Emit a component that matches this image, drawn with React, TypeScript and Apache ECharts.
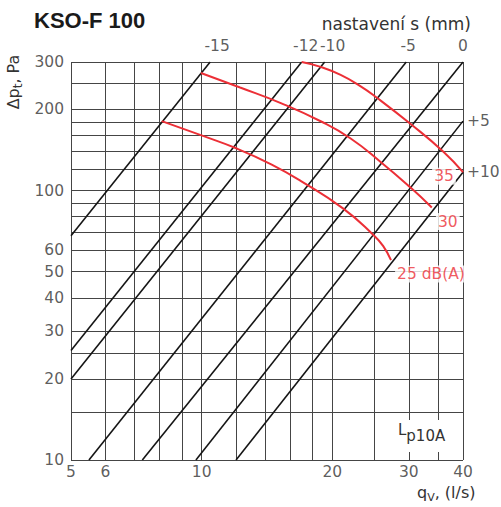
import React, { useEffect, useRef } from "react";
import * as echarts from "echarts";

// ---- data ----
const xGridValues = [5, 6, 7, 8, 9, 10, 12, 14, 16, 18, 20, 25, 30, 35, 40];
const yGridValues = [10, 15, 20, 25, 30, 40, 50, 60, 70, 80, 90, 100, 120, 140, 160, 180, 200, 250, 300];
const xTickLabels = [5, 6, 10, 20, 30, 40];
const yTickLabels = [10, 20, 30, 40, 50, 60, 100, 200, 300];

// setting lines (nastavení s, mm): start and end points [q, dp]
const settingNames = ["-15", "-12", "-10", "-5", "0", "+5", "+10"];
const settingStart = [[5, 68], [5, 25.5], [5, 20], [5.5, 10], [7.3, 10], [9.7, 10], [12, 10]];
const settingEnd = [[10.46, 300], [17.0, 300], [19.2, 300], [29.6, 300], [40, 300], [40, 181], [40, 117]];

// labels at the top of the chart (line tops) and on the right (line ends)
const topLabelNames = ["-15", "-12", "-10", "-5", "0"];
const topLabelQ = [10.46, 17.0, 19.2, 29.6, 40];
const rightLabelNames = ["+5", "+10"];
const rightLabelDp = [181, 117];

// noise curves Lp10A
const noiseLabels = ["35", "30", "25 dB(A)"];
const noise35 = [[17.0, 300], [18.8, 287.7], [20.9, 268.6], [23.2, 244.2], [25.3, 221.4], [30.2, 177.3], [36.1, 139.1], [40, 117]];
const noise30 = [[9.96, 273.2], [12.26, 241.3], [15.17, 211.6], [18.8, 180.8], [22.0, 156.4], [25.8, 128.0], [30.2, 103.0], [33.9, 86.5]];
const noise25 = [[8.09, 181], [9.92, 160.9], [12.05, 143.2], [14.5, 124.9], [16.9, 108.7], [21.2, 85.7], [24.9, 68.3], [26.2, 62.2], [27.3, 55.2]];

// ---- styles ----
const FONT = '"DejaVu Sans", "Noto Sans", sans-serif';
const TEXT = "#333";
const RED = "#ec2f36";
const GRIDC = "#454545";
const topLabelDx = [7, 4, 8, 2, 0];
const noiseLabelOffsets = [[-19, 4], [16, 14], [40, 14]];

export default function App() {
  const ref = useRef<HTMLDivElement>(null);

  useEffect(() => {
    const chart = echarts.init(ref.current!, null, { renderer: "svg" });
    const noiseSeries = [noise35, noise30, noise25];

    const series: any[] = [];

    // grid lines
    series.push({
      type: "line",
      data: [[5, 10]],
      showSymbol: false,
      lineStyle: { opacity: 0 },
      silent: true,
      z: 1,
      markLine: {
        silent: true,
        symbol: ["none", "none"],
        label: { show: false },
        z: 1,
        animation: false,
        lineStyle: { color: GRIDC, width: 1, type: "solid" },
        emphasis: { disabled: true },
        data: [
          ...xGridValues.map((v) => ({ xAxis: v })),
          ...yGridValues.map((v) => ({ yAxis: v })),
        ],
      },
    });

    // setting lines
    settingNames.forEach((n, i) => {
      series.push({
        type: "line",
        name: n,
        data: [settingStart[i], settingEnd[i]],
        showSymbol: false,
        silent: true,
        z: 3,
        lineStyle: { color: "#151515", width: 1.6 },
      });
    });

    // noise curves
    noiseSeries.forEach((d, i) => {
      series.push({
        type: "line",
        name: noiseLabels[i],
        data: d,
        smooth: 0.5,
        showSymbol: false,
        silent: true,
        z: 4,
        lineStyle: { color: RED, width: 2 },
      });
    });

    // noise labels
    series.push({
      type: "scatter",
      symbolSize: 0,
      silent: true,
      clip: false,
      z: 6,
      data: noiseSeries.map((d, i) => ({
        value: d[d.length - 1],
        name: noiseLabels[i],
        label: { offset: noiseLabelOffsets[i] },
      })),
      label: {
        show: true,
        position: "inside",
        align: "center",
        verticalAlign: "middle",
        formatter: "{b}",
        fontFamily: FONT,
        fontSize: 15.5,
        color: RED,
        backgroundColor: "#fff",
        padding: [1, 2, 0, 2],
      },
    });

    // x tick labels
    series.push({
      type: "scatter",
      symbolSize: 0,
      silent: true,
      clip: false,
      z: 6,
      data: xTickLabels.map((v) => [v, 10]),
      label: {
        show: true,
        position: "bottom",
        distance: 4,
        formatter: (p: any) => String(p.value[0]),
        fontFamily: FONT,
        fontSize: 15.5,
        color: TEXT,
      },
    });

    // y tick labels
    series.push({
      type: "scatter",
      symbolSize: 0,
      silent: true,
      clip: false,
      z: 6,
      data: yTickLabels.map((v) => [5, v]),
      label: {
        show: true,
        position: "left",
        distance: 7,
        formatter: (p: any) => String(p.value[1]),
        fontFamily: FONT,
        fontSize: 15.5,
        color: TEXT,
      },
    });

    // top labels
    series.push({
      type: "scatter",
      symbolSize: 0,
      silent: true,
      clip: false,
      z: 6,
      data: topLabelNames.map((n, i) => ({
        value: [topLabelQ[i], 300],
        name: n,
        label: { offset: [topLabelDx[i], 0] },
      })),
      label: {
        show: true,
        position: "top",
        distance: 8,
        formatter: "{b}",
        fontFamily: FONT,
        fontSize: 15.5,
        color: TEXT,
      },
    });

    // right labels
    series.push({
      type: "scatter",
      symbolSize: 0,
      silent: true,
      clip: false,
      z: 6,
      data: rightLabelNames.map((n, i) => ({
        value: [40, rightLabelDp[i]],
        name: n,
      })),
      label: {
        show: true,
        position: "right",
        distance: 4,
        formatter: "{b}",
        fontFamily: FONT,
        fontSize: 15.5,
        color: TEXT,
      },
    });

    const axisCommon = {
      type: "log",
      logBase: 10,
      axisLine: { show: false },
      axisTick: { show: false },
      axisLabel: { show: false },
      splitLine: { show: false },
      minorSplitLine: { show: false },
    };

    const option: any = {
      animation: false,
      backgroundColor: "#fff",
      grid: { left: 71, right: 38, top: 62, bottom: 47, containLabel: false },
      xAxis: { ...axisCommon, min: 5, max: 40 },
      yAxis: { ...axisCommon, min: 10, max: 300 },
      series,
      graphic: [
        {
          type: "text",
          x: 34,
          y: 20,
          z: 10,
          style: {
            text: "KSO-F 100",
            fontFamily: '"Liberation Sans", Arial, sans-serif',
            fontWeight: "bold",
            fontSize: 22,
            fill: "#1a1a1a",
            align: "left",
            verticalAlign: "middle",
          },
        },
        {
          type: "text",
          x: 471,
          y: 24,
          z: 10,
          style: {
            text: "nastavení s (mm)",
            fontFamily: FONT,
            fontSize: 17,
            fill: TEXT,
            align: "right",
            verticalAlign: "middle",
          },
        },
        {
          type: "text",
          x: 18,
          y: 82,
          z: 10,
          rotation: Math.PI / 2,
          style: {
            text: "{m|Δp}{s|t}{m|, Pa}",
            align: "center",
            verticalAlign: "middle",
            fill: TEXT,
            rich: {
              m: { fontFamily: FONT, fontSize: 16, lineHeight: 16, verticalAlign: "top", fill: TEXT },
              s: { fontFamily: FONT, fontSize: 12, lineHeight: 26, verticalAlign: "middle", fill: TEXT },
            },
          },
        },
        {
          type: "text",
          x: 417,
          y: 497,
          z: 10,
          style: {
            text: "{m|q}{s|V}{m|, (l/s)}",
            align: "left",
            verticalAlign: "middle",
            fill: TEXT,
            rich: {
              m: { fontFamily: FONT, fontSize: 16, lineHeight: 16, verticalAlign: "top", fill: TEXT },
              s: { fontFamily: FONT, fontSize: 11, lineHeight: 26, verticalAlign: "middle", fill: TEXT },
            },
          },
        },
        {
          type: "text",
          x: 396,
          y: 436,
          z: 10,
          style: {
            text: "{m|L}{s|p10A}",
            align: "left",
            verticalAlign: "middle",
            fill: TEXT,
            backgroundColor: "#fff",
            padding: [2, 3, 2, 2],
            rich: {
              m: { fontFamily: FONT, fontSize: 15, lineHeight: 16, verticalAlign: "top", fill: TEXT },
              s: { fontFamily: FONT, fontSize: 15, lineHeight: 28, verticalAlign: "middle", fill: TEXT },
            },
          },
        },
      ],
    };

    chart.setOption(option);
    return () => chart.dispose();
  }, []);

  return (
    <div
      ref={ref}
      style={{ position: "fixed", left: 0, top: 0, width: 501, height: 507, background: "#fff" }}
    />
  );
}
